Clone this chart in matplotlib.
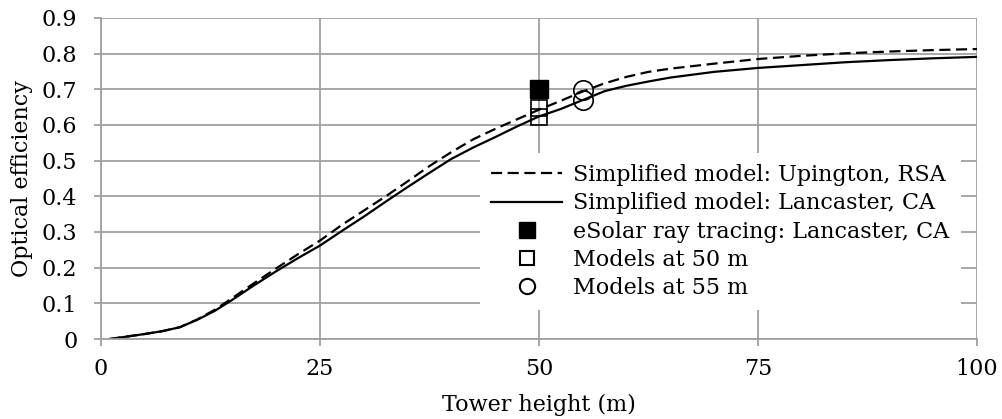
import numpy as np
import matplotlib.pyplot as plt
from matplotlib.lines import Line2D

# Tower height (m) and optical efficiency of the simplified model
height = [1, 3, 5, 7, 9, 11, 13, 15, 17.5, 20, 22.5, 25, 27.5, 30, 32.5, 35, 37.5,
          40, 42.5, 45, 47.5, 50, 52.5, 55, 57.5, 60, 62.5, 65, 70, 75, 80, 85, 90, 95, 100]
eff_upington = [0.0, 0.007, 0.014, 0.022, 0.033, 0.055, 0.082, 0.115, 0.157, 0.198, 0.238,
                0.276, 0.320, 0.360, 0.400, 0.442, 0.485, 0.524, 0.560, 0.589, 0.616, 0.643,
                0.668, 0.694, 0.717, 0.735, 0.749, 0.758, 0.772, 0.785, 0.794, 0.801, 0.806,
                0.810, 0.813]
eff_lancaster = [0.0, 0.007, 0.014, 0.022, 0.033, 0.054, 0.079, 0.110, 0.151, 0.190, 0.227,
                 0.262, 0.303, 0.343, 0.385, 0.426, 0.466, 0.505, 0.537, 0.566, 0.596, 0.624,
                 0.645, 0.670, 0.695, 0.710, 0.722, 0.733, 0.749, 0.760, 0.768, 0.776, 0.782,
                 0.787, 0.791]

# Point comparisons
esolar_x = [50]
esolar_y = [0.70]
models50_x = [50, 50]
models50_y = [0.648, 0.623]
models55_x = [55, 55]
models55_y = [0.698, 0.670]

legend_labels = ['Simplified model: Upington, RSA',
                 'Simplified model: Lancaster, CA',
                 'eSolar ray tracing: Lancaster, CA',
                 'Models at 50 m',
                 'Models at 55 m']

plt.rcParams['font.family'] = ['DejaVu Serif']
plt.rcParams['font.size'] = 16

grid_color = '#a0a0a0'

fig = plt.figure(figsize=(10.03, 4.19), dpi=100)
ax = fig.add_axes([101 / 1003, 1 - 339 / 419, 876 / 1003, 321 / 419])

ax.plot(height, eff_upington, color='black', lw=1.6, ls=(0, (5, 2.5)))
ax.plot(height, eff_lancaster, color='black', lw=1.6)
ax.plot(esolar_x, esolar_y, ls='none', marker='s', ms=13.5, color='black')
ax.plot(models50_x, models50_y, ls='none', marker='s', ms=11, mfc='none',
        mec='black', mew=1.2)
ax.plot(models55_x, models55_y, ls='none', marker='o', ms=14, mfc='none',
        mec='black', mew=1.2)

ax.set_xlim(0, 100)
ax.set_ylim(0, 0.9)
ax.set_xticks([0, 25, 50, 75, 100])
ax.set_yticks(np.arange(0, 0.91, 0.1))
ax.set_yticklabels(['0', '0.1', '0.2', '0.3', '0.4', '0.5', '0.6', '0.7', '0.8', '0.9'])
ax.grid(True, color=grid_color, lw=1.3)
ax.set_axisbelow(True)
for side in ['top', 'right']:
    ax.spines[side].set_visible(False)
for side in ['left', 'bottom']:
    ax.spines[side].set_color(grid_color)
    ax.spines[side].set_linewidth(1.3)
ax.tick_params(axis='both', direction='out', length=5, width=1.3, color=grid_color)
ax.tick_params(axis='y', pad=12)
ax.tick_params(axis='x', pad=9)

ax.set_xlabel('Tower height (m)', labelpad=10)
ax.set_ylabel('Optical efficiency', labelpad=6)

handles = [
    Line2D([], [], color='black', lw=1.6, ls=(0, (5, 2.5))),
    Line2D([], [], color='black', lw=1.6),
    Line2D([], [], ls='none', marker='s', ms=12, color='black'),
    Line2D([], [], ls='none', marker='s', ms=10, mfc='none', mec='black', mew=1.5),
    Line2D([], [], ls='none', marker='o', ms=11, mfc='none', mec='black', mew=1.5),
]
leg = ax.legend(handles, legend_labels, loc='upper left',
                bbox_to_anchor=(469 / 1003, 1 - 142 / 419),
                bbox_transform=fig.transFigure, frameon=True, fancybox=False,
                framealpha=1, edgecolor='none', borderpad=0.5, labelspacing=0.28,
                handlelength=3.2, handletextpad=0.5)
leg.get_frame().set_linewidth(0)

fig.savefig('out.png', dpi=100)
